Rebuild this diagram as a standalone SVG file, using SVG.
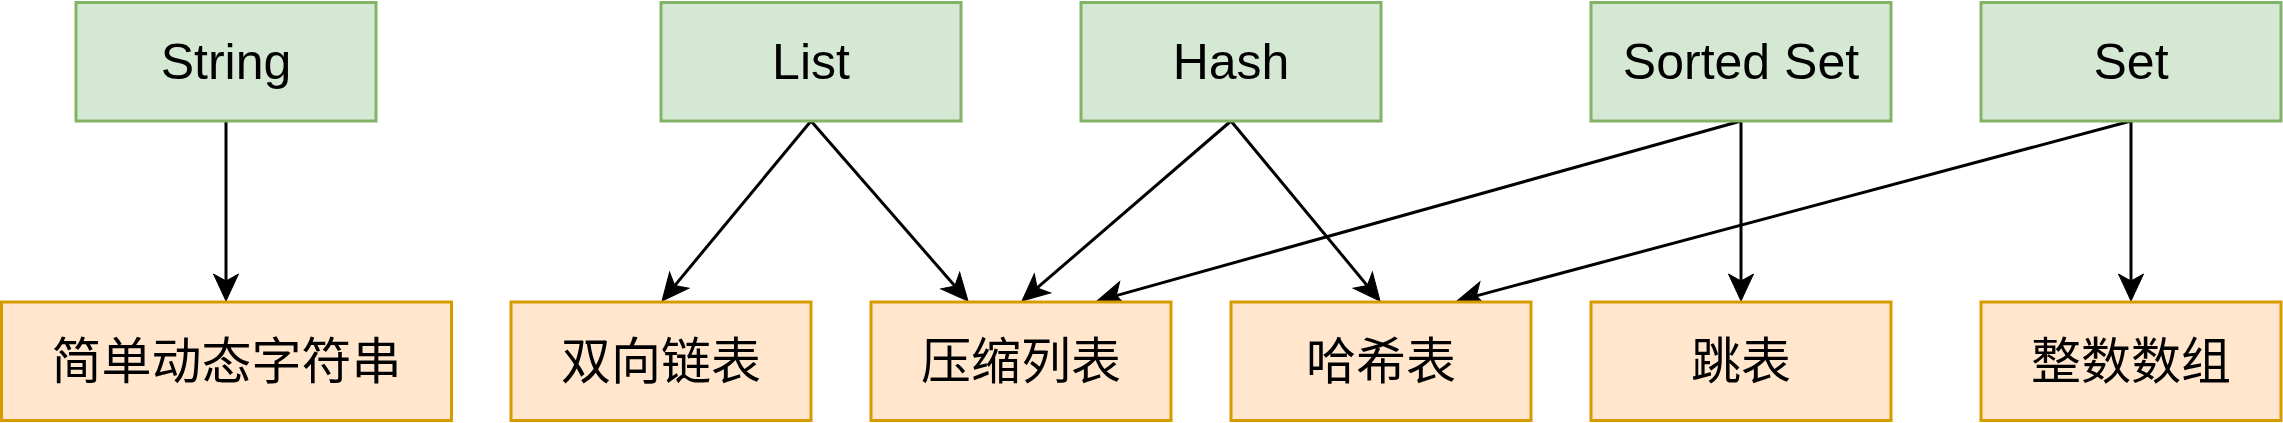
<svg xmlns="http://www.w3.org/2000/svg" width="2283" height="423" viewBox="0 0 2283 423">
<style>
.top rect{fill:#d5e8d4;stroke:#82b366;stroke-width:3}
.bot rect{fill:#ffe6cc;stroke:#d79b00;stroke-width:3}
.lat{font-family:"Liberation Sans",Arial,sans-serif;font-size:50px;fill:#000;text-anchor:middle}
.cjk{font-family:"Liberation Sans","Noto Sans CJK SC",sans-serif;font-size:50px;fill:#000;text-anchor:middle}
#edges line{stroke:#000;stroke-width:3;fill:none;marker-end:url(#arr)}
</style>
<defs>
<marker id="arr" markerUnits="userSpaceOnUse" viewBox="-8 -14 30 28" markerWidth="30" markerHeight="28" refX="0" refY="0" orient="auto" overflow="visible">
<path d="M20,0 L-7,-12.5 L0,0 L-7,12.5 Z" fill="#000" stroke="#000" stroke-width="1" stroke-linejoin="miter"/>
</marker>
</defs>
<rect width="2283" height="423" fill="#fff"/>
<g id="edges">
<line x1="226" y1="121" x2="226" y2="281"/>
<line x1="811" y1="121" x2="674.75" y2="285.59"/>
<line x1="811" y1="121" x2="954.85" y2="285.93"/>
<line x1="1231" y1="121" x2="1037.15" y2="287.95"/>
<line x1="1231" y1="121" x2="1367.25" y2="285.59"/>
<line x1="1741" y1="121" x2="1116.26" y2="295.62"/>
<line x1="1741" y1="121" x2="1741" y2="281"/>
<line x1="2131" y1="121" x2="1476.32" y2="295.84"/>
<line x1="2131" y1="121" x2="2131" y2="281"/>
</g>
<g id="node-string" class="top"><rect x="76" y="2.5" width="300" height="118.5"/><text class="lat" x="226" y="79">String</text></g>
<g id="node-list" class="top"><rect x="661" y="2.5" width="300" height="118.5"/><text class="lat" x="811" y="79">List</text></g>
<g id="node-hash" class="top"><rect x="1081" y="2.5" width="300" height="118.5"/><text class="lat" x="1231" y="79">Hash</text></g>
<g id="node-sortedset" class="top"><rect x="1591" y="2.5" width="300" height="118.5"/><text class="lat" x="1741" y="79">Sorted Set</text></g>
<g id="node-set" class="top"><rect x="1981" y="2.5" width="300" height="118.5"/><text class="lat" x="2131" y="79">Set</text></g>
<g id="node-sds" class="bot"><rect x="1.5" y="302" width="450" height="118.5"/><text class="cjk" x="226.5" y="379">简单动态字符串</text></g>
<g id="node-linkedlist" class="bot"><rect x="511" y="302" width="300" height="118.5"/><text class="cjk" x="661" y="379">双向链表</text></g>
<g id="node-ziplist" class="bot"><rect x="871" y="302" width="300" height="118.5"/><text class="cjk" x="1021" y="379">压缩列表</text></g>
<g id="node-hashtable" class="bot"><rect x="1231" y="302" width="300" height="118.5"/><text class="cjk" x="1381" y="379">哈希表</text></g>
<g id="node-skiplist" class="bot"><rect x="1591" y="302" width="300" height="118.5"/><text class="cjk" x="1741" y="379">跳表</text></g>
<g id="node-intset" class="bot"><rect x="1981" y="302" width="300" height="118.5"/><text class="cjk" x="2131" y="379">整数数组</text></g>
</svg>
